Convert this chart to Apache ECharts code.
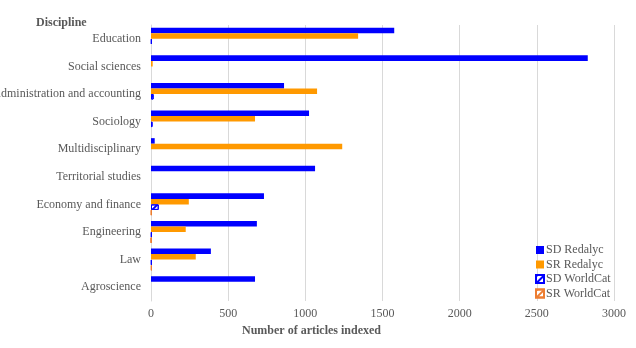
<!DOCTYPE html>
<html>
<head>
<meta charset="utf-8">
<script src="https://cdn.jsdelivr.net/npm/echarts@6/dist/echarts.min.js"></script>
<style>
  html, body { margin: 0; padding: 0; background: #fff; }
  #chart { width: 636px; height: 348px; }
</style>
</head>
<body>
<div id="chart"></div>
<script>
var disciplines = ["Education", "Social sciences", "Administration and accounting", "Sociology",
  "Multidisciplinary", "Territorial studies", "Economy and finance", "Engineering", "Law", "Agroscience"];
var sdRedalyc = [1576, 2830, 862, 1024, 24, 1063, 732, 686, 388, 674];
var srRedalyc = [1342, 11, 1076, 674, 1239, 0, 245, 225, 290, 0];
var sdWorldCat = [5, 0, 17, 10, 0, 0, 50, 5, 5, 0];
var srWorldCat = [0, 0, 0, 0, 0, 0, 4, 2, 5, 0];

var font = "'Liberation Serif', 'DejaVu Serif', serif";
var chart = echarts.init(document.getElementById("chart"));

// empty cells draw nothing (otherwise the border shows a sliver)
function noZero(arr) {
  return arr.map(function (v) { return v === 0 ? "-" : v; });
}

function hatch(c) {
  return { symbol: "rect", color: c, dashArrayX: [1, 0], dashArrayY: [1.5, 2.5], rotation: -Math.PI / 4 };
}

var option = {
  animation: false,
  textStyle: { fontFamily: font },
  title: [
    { text: "Discipline", left: 31, top: 12, textStyle: { fontFamily: font, fontSize: 12, fontWeight: "bold", color: "#595959" } },
    { text: "Number of articles indexed", left: 237, top: 320, textStyle: { fontFamily: font, fontSize: 12, fontWeight: "bold", color: "#595959" } }
  ],
  legend: {
    orient: "vertical",
    left: 530,
    top: 239,
    icon: "rect",
    itemWidth: 8,
    itemHeight: 8,
    itemGap: 2.5,
    textStyle: { fontFamily: font, fontSize: 12, color: "#595959", padding: [0, 0, 0, -3] },
    data: ["SD Redalyc", "SR Redalyc", "SD WorldCat", "SR WorldCat"]
  },
  grid: { left: 151, right: 22, top: 25, bottom: 47, outerBoundsMode: "none", containLabel: false },
  xAxis: {
    type: "value",
    min: 0,
    max: 3000,
    interval: 500,
    axisLine: { show: false },
    axisTick: { show: false },
    splitLine: { lineStyle: { color: "#d9d9d9" } },
    axisLabel: {
      fontFamily: font, fontSize: 12, color: "#595959", margin: 7,
      formatter: function (v) { return String(v); }
    }
  },
  yAxis: {
    type: "category",
    inverse: true,
    data: disciplines,
    axisLine: { lineStyle: { color: "#d9d9d9" } },
    axisTick: { show: false },
    axisLabel: { fontFamily: font, fontSize: 12, color: "#595959", margin: 10 }
  },
  series: [
    { name: "SD Redalyc", type: "bar", data: noZero(sdRedalyc), barGap: "0%", barCategoryGap: "20%", itemStyle: { color: "#0000ff" } },
    { name: "SR Redalyc", type: "bar", data: noZero(srRedalyc), itemStyle: { color: "#ff9900" } },
    { name: "SD WorldCat", type: "bar", data: noZero(sdWorldCat),
      itemStyle: { color: "#ffffff", borderColor: "#0000ff", borderWidth: 1, decal: hatch("#0000ff") } },
    { name: "SR WorldCat", type: "bar", data: noZero(srWorldCat),
      itemStyle: { color: "#ffffff", borderColor: "#ed7d31", borderWidth: 1, decal: hatch("#ed7d31") } }
  ]
};

chart.setOption(option);
</script>
</body>
</html>
